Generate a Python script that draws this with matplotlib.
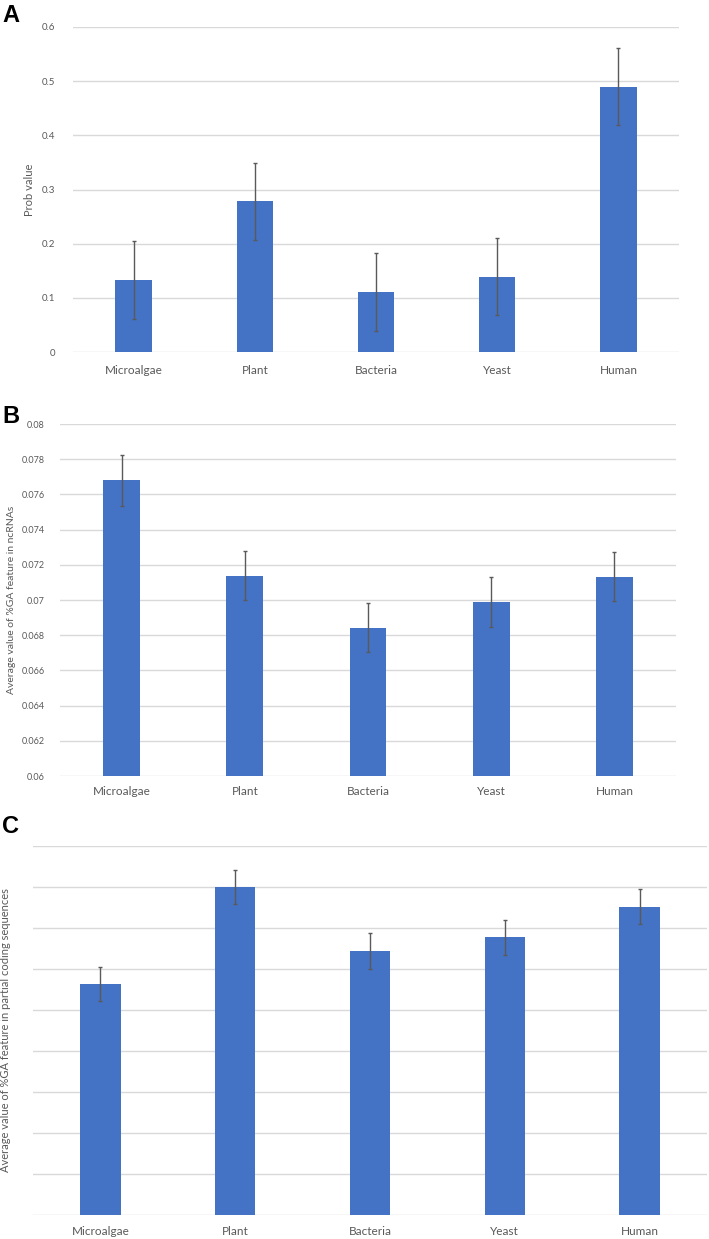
import matplotlib.pyplot as plt
import numpy as np

plt.rcParams['font.family'] = ['Lato', 'DejaVu Sans']

# data
categories = ["Microalgae", "Plant", "Bacteria", "Yeast", "Human"]

prob_vals = [0.133, 0.278, 0.111, 0.139, 0.490]
prob_err = [0.072, 0.071, 0.072, 0.071, 0.071]

ncrna_vals = [0.07679, 0.07138, 0.06842, 0.06988, 0.07132]
ncrna_err = [0.00143, 0.0014, 0.0014, 0.00143, 0.0014]

# panel C has no tick labels, values in gridline units
pcs_vals = [5.64, 8.00, 6.44, 6.77, 7.52]
pcs_err = [0.42, 0.42, 0.43, 0.43, 0.42]

BAR = "#4472C4"
GRID = "#D9D9D9"
TXT = "#595959"

W, H = 709, 1239
fig = plt.figure(figsize=(W / 100, H / 100), dpi=100)


def box(left, top, right, bottom):
    # pixel box -> figure fraction
    return [left / W, 1 - bottom / H, (right - left) / W, (bottom - top) / H]


def panel(rect, vals, errs, ylim, yticks, ylabel, show_yt=True, yl_x=-0.07,
          yl_size=8, xt_size=8.5, xpad=8, ypad=12, yl_y=0.5, yt_size=7):
    ax = fig.add_axes(rect)
    x = np.arange(len(categories))
    ax.bar(x, vals, width=0.3, color=BAR, zorder=3)
    ax.errorbar(x, vals, yerr=errs, fmt="none", ecolor="#5a5a5a", elinewidth=1,
                capsize=1.5, capthick=1, zorder=4)
    ax.set_xlim(-0.5, len(categories) - 0.5)
    ax.set_ylim(*ylim)
    ax.set_yticks(yticks)
    ax.yaxis.grid(True, color=GRID, lw=1)
    ax.set_axisbelow(True)
    for s in ax.spines.values():
        s.set_visible(False)
    ax.tick_params(axis="both", length=0)
    ax.set_xticks(x)
    ax.set_xticklabels(categories, fontsize=xt_size, color=TXT)
    ax.tick_params(axis="x", pad=xpad)
    if show_yt:
        ax.set_yticklabels([f"{t:g}" for t in yticks], fontsize=yt_size, color=TXT)
        ax.tick_params(axis="y", pad=ypad)
    else:
        ax.set_yticklabels([])
    ax.set_ylabel(ylabel, fontsize=yl_size, color=TXT)
    ax.yaxis.set_label_coords(yl_x, yl_y)
    return ax


panel(box(73, 27, 679, 352), prob_vals, prob_err, (0, 0.6),
      [0, 0.1, 0.2, 0.3, 0.4, 0.5, 0.6], "Prob value",
      yl_x=-0.062, xpad=9, ypad=13)

panel(box(60, 424, 676, 776), ncrna_vals, ncrna_err, (0.06, 0.08),
      [0.06, 0.062, 0.064, 0.066, 0.068, 0.07, 0.072, 0.074, 0.076, 0.078, 0.08],
      "Average value of %GA feature in ncRNAs",
      yl_x=-0.072, yl_size=7.5, xpad=7, ypad=11, yt_size=6.5)

panel(box(33, 846, 707, 1215), pcs_vals, pcs_err, (0, 9),
      list(range(10)), "Average value of %GA feature in partial coding sequences",
      show_yt=False, yl_x=-0.033, yl_size=8, xt_size=8.5, xpad=8, yl_y=0.5)

for letter, ypx in [("A", 4), ("B", 405), ("C", 815)]:
    fig.text(2 / W, 1 - ypx / H, letter, fontsize=17, fontweight="bold",
             family="Liberation Sans", va="top", ha="left", color="black")

fig.savefig("out.png", dpi=100)
